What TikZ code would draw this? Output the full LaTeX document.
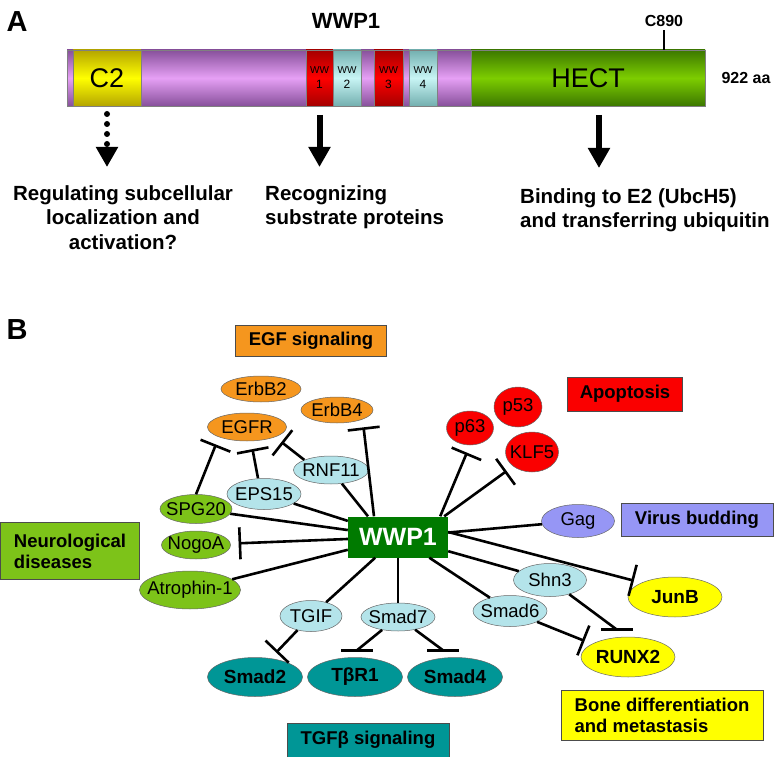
\documentclass[tikz,border=0pt]{standalone}
\usepackage{fontspec}
\setmainfont{Liberation Sans}
\usetikzlibrary{shapes.geometric,arrows.meta}

\definecolor{egforange}{RGB}{245,150,30}
\definecolor{apopred}{RGB}{250,0,0}
\definecolor{adaptblue}{RGB}{180,228,234}
\definecolor{neurogreen}{RGB}{125,195,25}
\definecolor{boneyellow}{RGB}{255,255,0}
\definecolor{tgfteal}{RGB}{0,150,150}
\definecolor{viruslilac}{RGB}{150,150,245}
\definecolor{wwpgreen}{RGB}{0,122,0}
\definecolor{purpmid}{RGB}{230,160,245}
\definecolor{purpedge}{RGB}{135,80,155}
\definecolor{yellmid}{RGB}{255,255,0}
\definecolor{yelledge}{RGB}{180,165,0}
\definecolor{redmid}{RGB}{255,0,0}
\definecolor{rededge}{RGB}{165,0,0}
\definecolor{cyanmid}{RGB}{200,245,245}
\definecolor{cyanedge}{RGB}{115,175,175}
\definecolor{greenmid}{RGB}{125,205,0}
\definecolor{greenedge}{RGB}{60,120,0}

\newcommand\domtext[1]{\fontsize{27}{27}\selectfont #1}
\newcommand\wwtext[1]{\fontsize{10}{10}\selectfont WW\\[3pt]\fontsize{12}{12}\selectfont #1}

\begin{document}
\begin{tikzpicture}[x=1pt,y=-1pt]
  \useasboundingbox (0,0) rectangle (774,757);

  % A: domain structure
  \node[font=\bfseries\fontsize{29}{29}\selectfont] (panela) at (17,22) {A};
  \node[font=\bfseries\fontsize{22}{22}\selectfont] (title) at (346,21) {WWP1};
  \begin{scope}[domain style/.style={draw=black!50,
                                     line width=0.4pt,
                                     minimum height=56pt,
                                     inner sep=0pt,
                                     outer sep=0pt,
                                     align=center}]
    \foreach \nm/\xa/\xb/\cmid/\cedge/\txt in {%
      lead/67/73/purpmid/purpedge/{},
      c2/73/141/yellmid/yelledge/{\domtext{C2}},
      link1/141/306/purpmid/purpedge/{},
      ww1/306/333/redmid/rededge/{\wwtext{1}},
      ww2/333/361/cyanmid/cyanedge/{\wwtext{2}},
      link2/361/374/purpmid/purpedge/{},
      ww3/374/403/redmid/rededge/{\wwtext{3}},
      link3/403/409/purpmid/purpedge/{},
      ww4/409/437/cyanmid/cyanedge/{\wwtext{4}},
      link4/437/471/purpmid/purpedge/{},
      hect/471/705/greenmid/greenedge/{\domtext{HECT}}}{%
      \node[domain style, minimum width={(\xb-\xa)*1pt},
            top color=\cedge, bottom color=\cedge, middle color=\cmid]
        (\nm) at ({(\xa+\xb)/2},78) {\txt};
    }
  \end{scope}
  \node[font=\bfseries\fontsize{16}{16}\selectfont] (c890) at (664,21) {C890};
  \draw[line width=1.5pt] (c890.south) -- (c890.south |- hect.north);
  \node[font=\bfseries\fontsize{16}{16}\selectfont] (length) at (746,78) {922 aa};

  \begin{scope}[role style/.style={font=\bfseries\fontsize{20.5}{24.5}\selectfont, inner sep=0pt},
                down arrow/.style={line width=6pt, -{Triangle[width=21pt,length=20pt]}}]
    \node[role style, align=center, anchor=north] (regulate) at (123,185)
      {Regulating subcellular\\localization and\\activation?};
    \node[role style, align=left, anchor=north west] (recognize) at (265,185)
      {Recognizing\\substrate proteins};
    \node[role style, align=left, anchor=north west] (bind) at (520,188)
      {Binding to E2 (UbcH5)\\and transferring ubiquitin};
    \coordinate (hectfoot) at ([xshift=11pt]hect.south);
    \draw[down arrow, line cap=round, dash pattern=on 0pt off 10pt,
          shorten <=8pt, shorten >=18pt] (c2.south) -- (c2.south |- regulate.north);
    \draw[down arrow, shorten <=9pt, shorten >=18pt] (ww1.south) -- (ww1.south |- recognize.north);
    \draw[down arrow, shorten <=9pt, shorten >=20pt] (hectfoot) -- (hectfoot |- bind.north);
  \end{scope}

  % B: interaction network
  \node[font=\bfseries\fontsize{29}{29}\selectfont] (panelb) at (17,330) {B};
  \begin{scope}[label box/.style={draw=black!70, line width=0.6pt,
                                  font=\bfseries\fontsize{18.5}{21}\selectfont,
                                  inner sep=0pt},
                gene style/.style={ellipse, draw=black!60, line width=0.5pt,
                                   inner xsep=-12pt, inner ysep=-3pt,
                                   font=\fontsize{18.5}{18.5}\selectfont},
                bold gene/.style={gene style, font=\bfseries\fontsize{19}{19}\selectfont},
                link style/.style={line width=2.6pt},
                inhibit style/.style={line width=2.6pt, -{Bar[width=32pt]}, shorten >=8pt}]
    \node[label box, fill=egforange, minimum width=151pt, minimum height=31pt] (egf) at (311,341) {EGF signaling};
    \node[label box, fill=apopred, minimum width=115pt, minimum height=34pt] (apoptosis) at (625,394) {Apoptosis};
    \node[label box, fill=viruslilac, minimum width=152pt, minimum height=33pt] (virus) at (697,520) {Virus budding};
    \node[label box, fill=neurogreen, minimum width=139pt, minimum height=57pt, align=left] (neuro) at (70,551) {Neurological\\diseases};
    \node[label box, fill=boneyellow, minimum width=202pt, minimum height=50pt, align=left] (bone) at (662,715) {Bone differentiation\\and metastasis};
    \node[label box, fill=tgfteal, minimum width=162pt, minimum height=34pt] (tgf) at (368,740) {TGFβ signaling};

    \node[fill=wwpgreen, text=white, font=\bfseries\fontsize{25}{25}\selectfont,
          minimum width=100pt, minimum height=41pt, inner sep=0pt] (wwp1) at (398,537) {WWP1};

    \node[gene style, fill=egforange, minimum width=80pt, minimum height=26pt] (erbb2) at (261,389) {ErbB2};
    \node[gene style, fill=egforange, minimum width=72pt, minimum height=26pt] (erbb4) at (337,410) {ErbB4};
    \node[gene style, fill=egforange, minimum width=79pt, minimum height=28pt] (egfr) at (247,427) {EGFR};
    \node[gene style, fill=adaptblue, minimum width=75pt, minimum height=28pt] (rnf11) at (331,470) {RNF11};
    \node[gene style, fill=adaptblue, minimum width=74pt, minimum height=31pt] (eps15) at (264,494) {EPS15};
    \node[gene style, fill=neurogreen, minimum width=72pt, minimum height=29pt] (spg20) at (196,509) {SPG20};
    \node[gene style, fill=neurogreen, minimum width=69pt, minimum height=28pt] (nogoa) at (196,545) {NogoA};
    \node[gene style, fill=neurogreen, minimum width=101pt, minimum height=38pt] (atrophin) at (190,590) {Atrophin-1};
    \node[gene style, fill=apopred, minimum width=47pt, minimum height=34pt] (p63) at (470,428) {p63};
    \node[gene style, fill=apopred, minimum width=48pt, minimum height=40pt] (p53) at (518,407) {p53};
    \node[gene style, fill=apopred, minimum width=53pt, minimum height=40pt] (klf5) at (532,452) {KLF5};
    \node[gene style, fill=viruslilac, minimum width=73pt, minimum height=33pt] (gag) at (578,521) {Gag};
    \node[gene style, fill=adaptblue, minimum width=62pt, minimum height=31pt] (tgif) at (311,616) {TGIF};
    \node[gene style, fill=adaptblue, minimum width=74pt, minimum height=28pt] (smad7) at (398,617) {Smad7};
    \node[gene style, fill=adaptblue, minimum width=74pt, minimum height=31pt] (smad6) at (510,611) {Smad6};
    \node[gene style, fill=adaptblue, minimum width=73pt, minimum height=33pt] (shn3) at (550,580) {Shn3};
    \node[bold gene, fill=boneyellow, minimum width=94pt, minimum height=40pt] (junb) at (675,597) {JunB};
    \node[bold gene, fill=boneyellow, minimum width=94pt, minimum height=40pt] (runx2) at (628,657) {RUNX2};
    \node[bold gene, fill=tgfteal, minimum width=95pt, minimum height=39pt] (smad2) at (255,677) {Smad2};
    \node[bold gene, fill=tgfteal, minimum width=95pt, minimum height=39pt] (tbr1) at (355,677) {TβR1};
    \node[bold gene, fill=tgfteal, minimum width=95pt, minimum height=39pt] (smad4) at (455,677) {Smad4};

    % binding partners
    \draw[link style] (rnf11) -- ([xshift=-30pt]wwp1.north);
    \foreach \g in {eps15,spg20,atrophin,tgif,smad7,smad6,shn3,gag}
      \draw[link style] (wwp1) -- (\g);

    % inhibition
    \draw[inhibit style] ([xshift=-24pt]wwp1.north) -- (erbb4.south east);
    \draw[inhibit style] (rnf11.north west) -- (egfr.south east);
    \draw[inhibit style] ([xshift=-6pt]eps15.north) -- ([xshift=4pt]egfr.south);
    \draw[inhibit style] (spg20.north) -- (egfr.south west);
    \draw[inhibit style] (wwp1) -- (nogoa);
    \draw[inhibit style] ([xshift=-8pt]wwp1.north east) -- (p63.south);
    \draw[inhibit style] ([xshift=-4pt]wwp1.north east) -- (klf5.south west);
    \draw[inhibit style] ([yshift=5pt]wwp1.east) -- (junb.north west);
    \draw[inhibit style] (tgif) -- (smad2.50);
    \draw[inhibit style] (smad6) -- (runx2.160);
    \foreach \src/\dst/\dx in {smad7/tbr1/2, smad7/smad4/-12, shn3/runx2/-11}{%
      \coordinate (barmid) at ([xshift=\dx pt, yshift=7pt]\dst.north);
      \draw[link style] (\src) -- (barmid);
      \draw[link style] ([xshift=-16pt]barmid) -- ([xshift=16pt]barmid);
    }
  \end{scope}

\end{tikzpicture}
\end{document}
